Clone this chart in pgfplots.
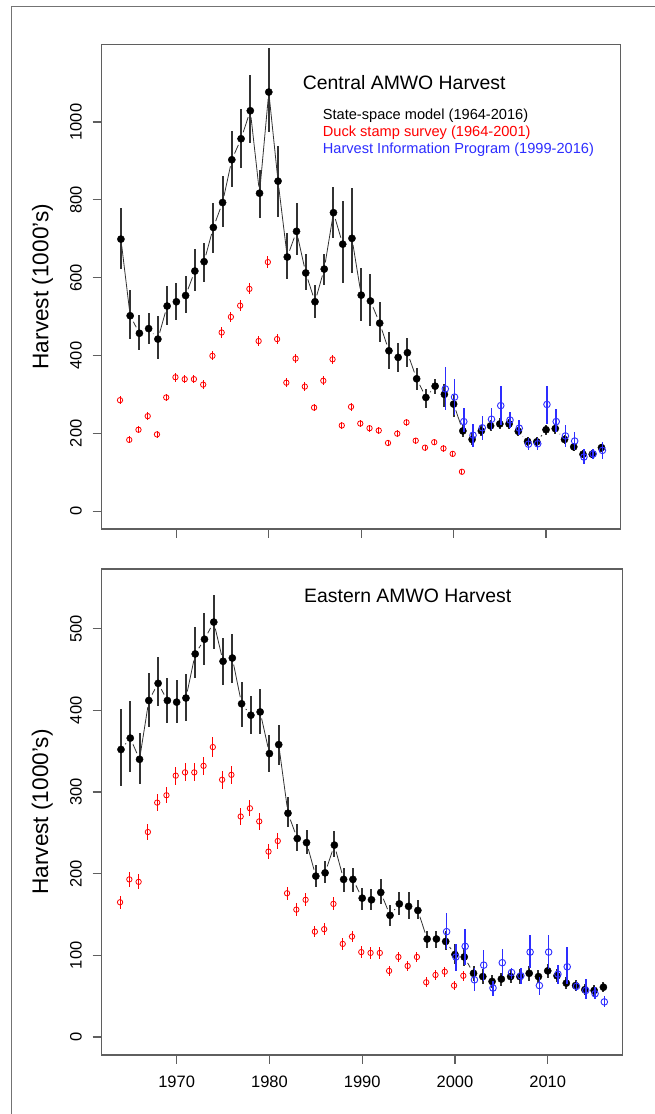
\documentclass[border=0pt]{standalone}
\usepackage{fontspec}
\setmainfont{Liberation Sans}
\usepackage{pgfplots}
\usepackage{pgfplotstable}
\pgfplotsset{compat=1.18}

\definecolor{hipblue}{RGB}{45,45,255}
\definecolor{boxgray}{RGB}{95,95,95}
\definecolor{bargray}{RGB}{50,50,50}

% Central region: state-space model (year, estimate, minus, plus)
\pgfplotstableread{
year val em ep
1964 699 77 80
1965 502 61 66
1966 457 42 47
1967 469 39 41
1968 442 51 59
1969 527 48 52
1970 538 46 47
1971 554 46 50
1972 617 51 56
1973 641 51 49
1974 729 65 62
1975 793 62 68
1976 903 69 74
1977 957 74 76
1978 1029 84 92
1979 817 65 60
1980 1077 102 112
1981 848 93 90
1982 653 57 61
1983 719 61 74
1984 612 44 50
1985 538 43 43
1986 622 41 40
1987 767 66 67
1988 686 101 111
1989 701 89 129
1990 555 66 69
1991 540 64 69
1992 483 48 55
1993 412 46 47
1994 395 37 37
1995 407 36 39
1996 340 29 27
1997 292 26 23
1998 321 21 18
1999 300 32 26
2000 275 33 23
2001 206 15 15
2002 184 14 16
2003 206 14 16
2004 219 14 14
2005 224 14 14
2006 224 13 13
2007 205 12 12
2008 179 12 12
2009 178 12 12
2010 209 13 13
2011 212 13 13
2012 184 12 12
2013 165 11 11
2014 146 10 10
2015 146 10 10
2016 163 10 10
}\cenSS

\pgfplotstableread{
year val em ep
1999.1 314 54 57
2000.1 293 46 46
2001.1 230 26 36
2002.1 195 30 29
2003.1 214 31 31
2004.1 236 28 28
2005.1 271 50 50
2006.1 234 21 21
2007.1 213 18 21
2008.1 172 16 16
2009.1 173 16 16
2010.1 274 49 47
2011.1 230 26 32
2012.1 193 28 28
2013.1 180 23 22
2014.1 139 19 20
2015.1 147 12 12
2016.1 156 22 22
}\cenHIP

\pgfplotstableread{
year val e
1963.9 285 10
1964.9 183 9
1965.9 209 9
1966.9 244 10
1967.9 197 9
1968.9 292 10
1969.9 344 11
1970.9 339 11
1971.9 339 11
1972.9 325 11
1973.9 399 12
1974.9 459 13
1975.9 499 13
1976.9 528 14
1977.9 571 14
1978.9 437 12
1979.9 640 15
1980.9 442 13
1981.9 330 11
1982.9 392 12
1983.9 320 11
1984.9 266 10
1985.9 335 11
1986.9 390 12
1987.9 220 9
1988.9 268 10
1989.9 225 9
1990.9 213 9
1991.9 207 9
1992.9 175 8
1993.9 199 9
1994.9 228 9
1995.9 181 8
1996.9 163 8
1997.9 177 8
1998.9 161 8
1999.9 147 8
2000.9 101 7
}\cenDuck

% Eastern region
\pgfplotstableread{
year val em ep
1964 352 45 50
1965 366 42 45
1966 340 30 32
1967 412 32 34
1968 433 28 32
1969 412 27 28
1970 410 26 27
1971 415 28 29
1972 469 30 33
1973 487 31 32
1974 508 33 33
1975 460 29 29
1976 464 30 30
1977 408 28 27
1978 394 23 24
1979 398 27 28
1980 347 22 23
1981 358 25 24
1982 274 17 20
1983 243 15 18
1984 238 14 15
1985 197 13 13
1986 201 13 15
1987 235 15 17
1988 193 15 14
1989 193 15 14
1990 170 15 13
1991 168 13 13
1992 177 14 16
1993 149 13 13
1994 163 13 15
1995 160 15 17
1996 155 11 13
1997 120 11 10
1998 120 11 10
1999 117 11 13
2000 101 12 13
2001 98 11 11
2002 78 9 9
2003 74 9 9
2004 68 8 8
2005 71 8 8
2006 74 8 8
2007 74 9 9
2008 78 9 9
2009 74 8 8
2010 81 9 9
2011 75 8 8
2012 66 7 7
2013 63 7 7
2014 58 7 7
2015 57 7 7
2016 61 6 6
}\eastSS

\pgfplotstableread{
year val em ep
1999.1 129 21 23
2000.1 98 17 16
2001.1 111 23 21
2002.1 70 14 15
2003.1 88 19 19
2004.1 60 10 9
2005.1 91 16 17
2006.1 79 8 6
2007.1 75 10 10
2008.1 104 20 21
2009.1 63 12 11
2010.1 104 21 21
2011.1 77 12 11
2012.1 86 21 24
2013.1 62 6 7
2014.1 57 11 14
2015.1 53 7 8
2016.1 43 6 7
}\eastHIP

\pgfplotstableread{
year val e
1963.9 165 8
1964.9 193 9
1965.9 190 9
1966.9 251 10
1967.9 287 10
1968.9 296 10
1969.9 320 11
1970.9 324 11
1971.9 324 11
1972.9 332 11
1973.9 355 12
1974.9 315 11
1975.9 321 11
1976.9 270 10
1977.9 280 10
1978.9 264 10
1979.9 227 9
1980.9 240 10
1981.9 176 8
1982.9 156 8
1983.9 168 8
1984.9 129 7
1985.9 132 7
1986.9 163 8
1987.9 114 7
1988.9 123 7
1989.9 104 7
1990.9 103 7
1991.9 103 7
1992.9 81 6
1993.9 98 6
1994.9 87 6
1995.9 98 6
1996.9 67 6
1997.9 76 6
1998.9 80 6
1999.9 63 5
2000.9 75 6
}\eastDuck

\pgfplotsset{
  amwo/.style={
    scale only axis,
    clip marker paths=true,
    xmin=1961.92, xmax=2018.08,
    axis line style={boxgray, line width=1.1pt},
    every tick/.style={boxgray, line width=1.1pt},
    tick align=outside, tick pos=left, major tick length=9pt,
    xtick={1970,1980,...,2010},
    /pgf/number format/1000 sep={},
    /pgf/number format/assume math mode=true,
    ticklabel style={font=\fontsize{16.5}{18}\selectfont},
    yticklabel style={rotate=90, anchor=base, inner sep=0pt},
    yticklabel shift=11pt,
    xticklabel style={anchor=base, inner sep=0pt},
    xticklabel shift=23pt,
    ylabel={Harvest (1000's)},
    ylabel style={at={(axis description cs:-0.1029,0.5)}, anchor=base, inner sep=0pt,
      font=\fontsize{22.6}{26}\selectfont},
  },
  ssline/.style={bargray, line width=0.8pt, no marks},
  % white gap round each point, as in R's type="b"
  sshalo/.style={only marks, mark=*, mark size=6.5pt, white},
  sspts/.style={only marks, mark=*, mark size=3.6pt, black,
    error bars/.cd, y dir=both, y explicit, error mark=none,
    error bar style={bargray, line width=2pt}},
  hippts/.style={only marks, mark=o, mark size=3.3pt, hipblue, line width=0.9pt,
    error bars/.cd, y dir=both, y explicit, error mark=none,
    error bar style={hipblue, line width=1.5pt}},
  duckpts/.style={only marks, mark=o, mark size=2.7pt, red, line width=0.8pt,
    error bars/.cd, y dir=both, y explicit, error mark=none,
    error bar style={red, line width=0.9pt}},
}

\begin{document}
\begin{tikzpicture}
\useasboundingbox (0,0) rectangle (655pt,1114pt);
\draw[black!55, line width=1pt] (11pt,-2pt) -- (11pt,1107pt) -- (660pt,1107pt);

\begin{axis}[amwo, at={(101.7pt,585pt)}, anchor=south west,
  width=519pt, height=484.7pt,
  ymin=-46.1, ymax=1199.8, ytick={0,200,...,1000},
  xticklabels={}]
  \addplot[duckpts] table[x=year, y=val, y error=e] {\cenDuck};
  \addplot[ssline] table[x=year, y=val] {\cenSS};
  \addplot[sshalo] table[x=year, y=val] {\cenSS};
  \addplot[sspts] table[x=year, y=val, y error minus=em, y error plus=ep] {\cenSS};
  \addplot[hippts] table[x=year, y=val, y error minus=em, y error plus=ep] {\cenHIP};
  \node[anchor=base west, inner sep=0pt, font=\fontsize{19.4}{22}\selectfont]
    at (rel axis cs:0.3873,0.9057) {Central AMWO Harvest};
  \node[anchor=base west, inner sep=0pt, font=\fontsize{14.6}{17}\selectfont]
    at (rel axis cs:0.4258,0.8453) {State-space model (1964-2016)};
  \node[anchor=base west, inner sep=0pt, text=red, font=\fontsize{14.6}{17}\selectfont]
    at (rel axis cs:0.4258,0.8094) {Duck stamp survey (1964-2001)};
  \node[anchor=base west, inner sep=0pt, text=hipblue, font=\fontsize{14.6}{17}\selectfont]
    at (rel axis cs:0.4258,0.7751) {Harvest Information Program (1999-2016)};
\end{axis}

\begin{axis}[amwo, at={(101.7pt,59pt)}, anchor=south west,
  width=521pt, height=486pt,
  ymin=-22, ymax=573, ytick={0,100,...,500}]
  \addplot[duckpts] table[x=year, y=val, y error=e] {\eastDuck};
  \addplot[ssline] table[x=year, y=val] {\eastSS};
  \addplot[sshalo] table[x=year, y=val] {\eastSS};
  \addplot[sspts] table[x=year, y=val, y error minus=em, y error plus=ep] {\eastSS};
  \addplot[hippts] table[x=year, y=val, y error minus=em, y error plus=ep] {\eastHIP};
  \node[anchor=base west, inner sep=0pt, font=\fontsize{19.4}{22}\selectfont]
    at (rel axis cs:0.3883,0.9315) {Eastern AMWO Harvest};
\end{axis}
\end{tikzpicture}
\end{document}
